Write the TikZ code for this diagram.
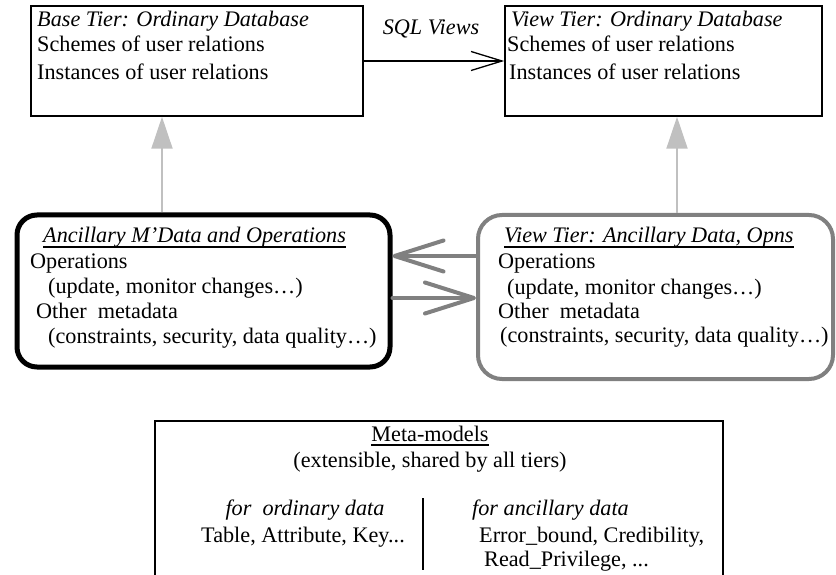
\documentclass[tikz,border=0pt]{standalone}
\usepackage{fontspec}
\setmainfont{Liberation Serif}
\usetikzlibrary{arrows.meta,calc}
\definecolor{midgray}{RGB}{128,128,128}
\definecolor{paleg}{RGB}{192,192,192}
\begin{document}
\begin{tikzpicture}[x=1pt,y=-1pt,
  txt/.style={inner sep=0pt, anchor=base west, font=\fontsize{22.2}{25}\selectfont},
  itxt/.style={txt, font=\fontsize{22.2}{25}\selectfont\itshape},
  ctxt/.style={txt, anchor=base},
  cittxt/.style={itxt, anchor=base},
  dbbox/.style={draw=black, line width=1.5pt, inner sep=0pt},
  ancbox/.style={draw=black, line width=5pt, rounded corners=20pt, inner sep=0pt},
  viewanc/.style={draw=midgray, line width=4pt, rounded corners=24pt, inner sep=0pt},
  uline/.style={line width=1.2pt},
  sqlarrow/.style={line width=1.3pt, -{Straight Barb[length=31pt,width=19pt]}},
  uparrow/.style={draw=paleg, line width=2pt, -{Triangle[length=32pt,width=21pt,fill=paleg]}},
  bigarrow/.style={draw=midgray, line width=4pt, line cap=round, -{Straight Barb[length=49pt,width=31pt,round]}}
]
\useasboundingbox (0,0) rectangle (836,575);

% top boxes
\node[dbbox, minimum width=332pt, minimum height=110pt] (base) at (197,61) {};
\node[dbbox, minimum width=317pt, minimum height=110pt] (view) at (663.5,61) {};
\node[itxt] at (37,27) {Base Tier: Ordinary Database};
\node[txt] at (37,52) {Schemes of user relations};
\node[txt] at (37,80) {Instances of user relations};
\node[itxt] at (511,27) {View Tier: Ordinary Database};
\node[txt] at (507,52) {Schemes of user relations};
\node[txt] at (509,80) {Instances of user relations};

\draw[sqlarrow] (base.east) -- (view.west);
\node[cittxt] (sql) at (431,35) {SQL Views};

% ancillary boxes
\node[ancbox, minimum width=373pt, minimum height=152pt] (anc) at (203.5,291) {};
\node[viewanc, minimum width=355pt, minimum height=164pt] (vanc) at (655.5,297) {};

\node[itxt] (t3) at (43,243) {Ancillary M’Data and Operations};
\draw[uline] ($(t3.base west)+(0,4)$) -- ($(t3.base east)+(0,4)$);
\node[txt] at (30,268) {Operations};
\node[txt] at (48,293) {(update, monitor changes…)};
\node[txt] at (36,318) {Other~ metadata};
\node[txt] at (48,343) {(constraints, security, data quality…)};

\node[itxt] (t4) at (504,243) {View Tier: Ancillary Data, Opns};
\draw[uline] ($(t4.base west)+(0,4)$) -- ($(t4.base east)+(0,4)$);
\node[txt] at (498,269) {Operations};
\node[txt] at (507,294) {(update, monitor changes…)};
\node[txt] at (498,318) {Other~ metadata};
\node[txt] at (500,342) {(constraints, security, data quality…)};

% connectors
\coordinate (xl) at (162,0);
\coordinate (xr) at (677,0);
\draw[uparrow] (xl |- anc.north) -- (xl |- base.south);
\draw[uparrow] (xr |- vanc.north) -- (xr |- view.south);
\coordinate (ya) at (0,256);
\coordinate (yb) at (0,298);
\draw[bigarrow] (vanc.west |- ya) -- (anc.east |- ya);
\draw[bigarrow] (anc.east |- yb) -- (vanc.west |- yb);

% meta-models box
\draw[line width=1.3pt] (155,575) -- (155,421) -- (723,421) -- (723,575);
\node[ctxt] (mm) at (430,441) {Meta-models};
\draw[uline] ($(mm.base west)+(0,4)$) -- ($(mm.base east)+(0,4)$);
\node[ctxt] at (430,467) {(extensible, shared by all tiers)};
\node[cittxt] at (305,515) {for~ ordinary data};
\node[ctxt] at (303,542) {Table, Attribute, Key...};
\draw[line width=1.5pt] (423,498) -- (423,570);
\node[itxt] at (472,515) {for ancillary data};
\node[txt] at (479,542) {Error\_bound, Credibility,};
\node[txt] at (484,566) {Read\_Privilege, ...};
\end{tikzpicture}
\end{document}
